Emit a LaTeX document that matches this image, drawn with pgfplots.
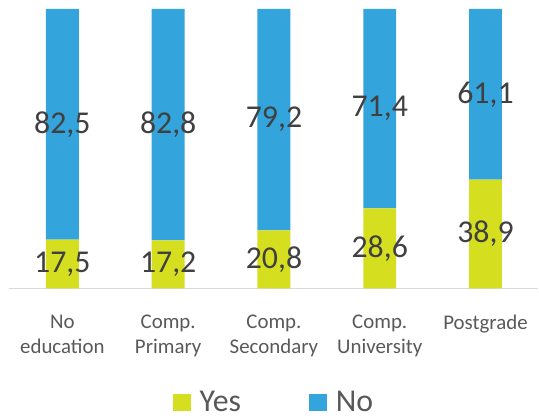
\documentclass[border=0pt]{standalone}
\usepackage{pgfplots}
\pgfplotsset{compat=1.18}
\usepackage{fontspec}
\setmainfont{Carlito}
\definecolor{yescol}{HTML}{D5DF1F}
\definecolor{nocol}{HTML}{34A4DC}
\definecolor{txt}{HTML}{404040}
\definecolor{lbl}{HTML}{595959}
\pgfplotsset{sqlegend/.style={legend image code/.code={\fill[##1] (0bp,-8.5bp) rectangle (18bp,8.5bp); \path (25bp,0bp);}}}
\begin{document}
\begin{tikzpicture}[x=1bp,y=1bp]
\path (0,0) rectangle (539,419);
\begin{axis}[
  at={(9.5bp,130bp)}, anchor=south west,
  scale only axis, width=530bp, height=280bp,
  xmin=-0.5, xmax=4.5, ymin=0, ymax=100,
  ybar stacked, bar width=33bp,
  axis x line*=bottom, axis y line=none,
  x axis line style={draw=black!15, line width=1.2pt},
  xtick={0,1,2,3,4}, major tick length=0pt,
  xticklabels={{No\\education},{Comp.\\Primary},{Comp.\\Secondary},{Comp.\\University},{Postgrade}},
  xticklabel style={align=center, font=\fontsize{21}{25}\selectfont, text=lbl, anchor=north, yshift=-23bp},
  ytick=\empty,
  nodes near coords={\pgfmathprintnumber[assume math mode=true,use comma,fixed,fixed zerofill,precision=1]{\pgfplotspointmeta}},
  every node near coord/.append style={anchor=center, font=\fontsize{32}{36}\selectfont, text=txt},
  legend columns=2,
  legend style={draw=none, at={(0.5,-0.407)}, anchor=center, font=\fontsize{32}{36}\selectfont, text=lbl,
    nodes={inner ysep=0pt},
    /tikz/every even column/.append style={column sep=66bp}},
]
\addplot[fill=yescol, draw=none, sqlegend] coordinates {(0,17.5) (1,17.2) (2,20.8) (3,28.6) (4,38.9)};
\addplot[fill=nocol, draw=none, sqlegend] coordinates {(0,82.5) (1,82.8) (2,79.2) (3,71.4) (4,61.1)};
\legend{Yes,No}
\end{axis}
\end{tikzpicture}
\end{document}
